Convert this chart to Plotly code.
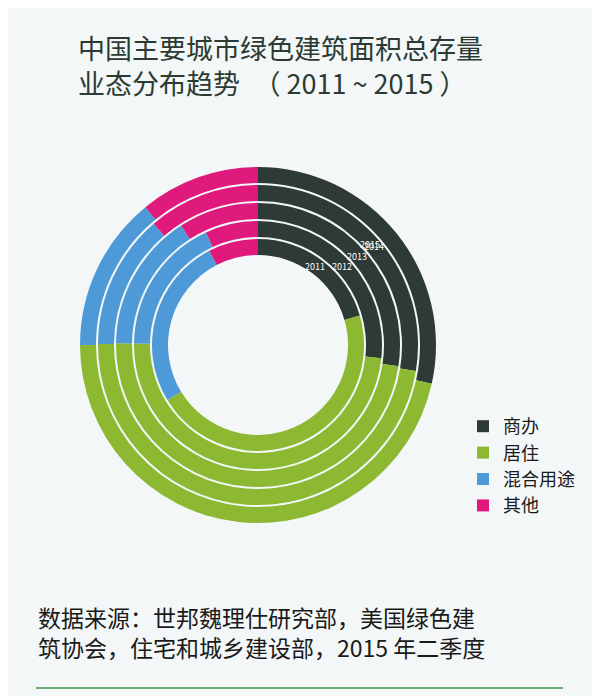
import plotly.graph_objects as go

# 类别与数据（百分比，读图估计）
categories = ["商办", "居住", "混合用途", "其他"]
years = ["2011", "2012", "2013", "2014", "2015"]
share_commercial = [20.5, 26.7, 27.4, 27.6, 28.5]
share_residential = [45.8, 48.5, 47.8, 47.5, 46.5]
share_mixed = [26.1, 17.9, 15.7, 13.6, 14.1]
share_other = [7.6, 6.9, 9.1, 11.3, 10.9]

colors = ["#2d3a35", "#8cb832", "#4e9ad8", "#df1a7c"]

W, H = 600, 696
cx, cy = 250, 337
r0, ring, gap = 90, 18, 2

fig = go.Figure()
for i, y in enumerate(years):
    vals = [share_commercial[i], share_residential[i], share_mixed[i], share_other[i]]
    inner = r0 + ring * i
    outer = inner + ring - gap
    fig.add_trace(go.Pie(
        labels=categories, values=vals, name=y,
        sort=False, direction="clockwise", rotation=0,
        hole=inner / outer,
        marker=dict(colors=colors, line=dict(width=0)),
        textinfo="none", hoverinfo="label+percent",
        domain=dict(x=[(cx - outer) / W, (cx + outer) / W],
                    y=[1 - (cy + outer) / H, 1 - (cy - outer) / H]),
        showlegend=(i == 0),
    ))

# 年份小标签
year_pos = [(307, 258), (334, 258), (349, 248), (366, 238), (362, 228)]
for y, (px, py) in zip(years, year_pos):
    fig.add_annotation(x=px / W, y=1 - py / H, xref="paper", yref="paper",
                       text=y, showarrow=False, font=dict(size=9, color="white"))

fig.add_annotation(x=68 / W, y=1 - 18 / H, xref="paper", yref="paper",
                   xanchor="left", yanchor="top", align="left", showarrow=False,
                   text="中国主要城市绿色建筑面积总存量<br>业态分布趋势　（ 2011 ~ 2015 ）",
                   font=dict(size=27, color="#2b3a33", family="Noto Sans CJK SC"))
fig.add_annotation(x=28 / W, y=1 - 590 / H, xref="paper", yref="paper",
                   xanchor="left", yanchor="top", align="left", showarrow=False,
                   text="数据来源：世邦魏理仕研究部，美国绿色建<br>筑协会，住宅和城乡建设部，2015 年二季度",
                   font=dict(size=23, color="#1a1a1a", family="Noto Sans CJK SC"))
fig.add_shape(type="line", xref="paper", yref="paper",
              x0=28 / W, x1=555 / W, y0=1 - 680 / H, y1=1 - 680 / H,
              line=dict(color="#3a9a4a", width=1.5))

fig.update_layout(
    width=W, height=H, margin=dict(l=0, r=0, t=0, b=0),
    paper_bgcolor="#f3f7f7", plot_bgcolor="#f3f7f7",
    font=dict(family="Noto Sans CJK SC"),
    legend=dict(x=455 / W, y=1 - 400 / H, xanchor="left", yanchor="top",
                font=dict(size=18, color="#1a1a1a"), tracegroupgap=0,
                itemsizing="constant", bgcolor="rgba(0,0,0,0)"),
)

fig.write_html("out.html")
